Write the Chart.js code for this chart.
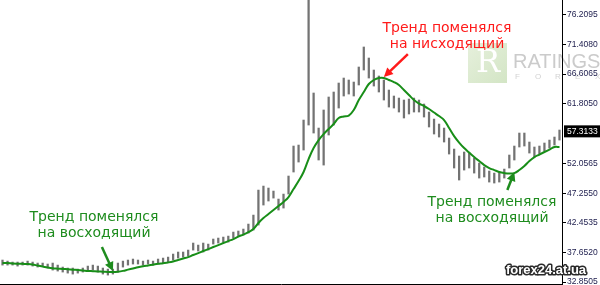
<!DOCTYPE html>
<html>
<head>
<meta charset="utf-8">
<script src="https://cdn.jsdelivr.net/npm/chart.js@4.4.1/dist/chart.umd.min.js"></script>
<style>
  html, body { margin: 0; padding: 0; background: #fff; }
  #wrap { width: 600px; height: 285px; }
</style>
</head>
<body>
<div id="wrap"><canvas id="chart" width="600" height="285"></canvas></div>
<script>
// bar highs / lows (one bar per ~5px)
const highs = [36.42,36.25,36.09,36.09,36.09,36.25,36.09,35.93,35.93,35.77,
  35.93,35.60,35.28,35.12,35.12,34.95,35.12,35.44,35.60,35.44,
  35.12,34.95,34.95,35.93,36.25,36.42,36.58,36.42,36.25,36.42,
  36.25,36.58,36.74,36.90,37.39,37.72,37.72,38.04,39.18,38.85,
  39.18,39.01,39.83,39.99,40.15,40.31,40.96,41.13,41.45,42.26,
  43.72,47.78,48.43,48.11,47.62,46.32,47.13,50.06,54.93,55.09,
  59.15,78.60,63.54,57.85,60.78,62.89,63.70,65.16,65.97,65.65,
  65.32,67.76,71.01,69.22,67.27,66.30,65.65,64.02,63.05,62.72,
  62.40,62.56,62.72,62.40,61.75,60.45,59.31,58.50,57.85,56.23,
  54.44,53.31,53.96,53.79,52.98,52.17,51.52,50.87,50.54,50.71,
  51.19,53.47,54.93,57.04,57.04,55.58,54.77,54.93,55.42,55.90,
  56.39,57.53];
const lows = [35.60,35.60,35.60,35.44,35.60,35.60,35.44,35.28,35.44,35.12,
  34.79,34.63,34.47,34.30,34.14,34.30,34.47,34.63,34.79,34.47,
  34.14,33.98,34.14,34.47,35.28,35.60,35.77,35.77,35.60,35.77,
  35.60,35.77,35.93,36.09,36.42,36.74,36.90,37.07,38.04,37.88,
  37.72,38.04,39.01,39.18,39.34,39.34,39.99,40.31,40.48,40.80,
  41.29,42.10,45.35,46.00,46.48,44.54,44.86,47.13,50.71,52.33,
  54.28,58.34,57.04,52.66,51.84,56.72,58.34,61.10,63.05,63.37,
  63.05,64.84,67.27,65.97,64.67,63.70,62.40,61.26,61.10,60.45,
  59.48,60.13,60.45,60.45,59.64,58.02,56.88,56.39,55.58,53.63,
  51.36,49.41,51.03,51.36,50.54,49.73,49.90,49.08,48.92,49.08,
  49.73,51.36,52.66,54.77,54.93,53.79,53.14,53.63,54.12,54.60,
  55.09,55.90];
// moving average (green line)
const maValues = [35.93,35.93,35.87,35.83,35.80,35.77,35.69,35.52,35.36,35.20,
  35.08,35.02,34.97,34.92,34.86,34.79,34.73,34.66,34.61,34.56,
  34.53,34.48,34.47,34.53,34.66,34.86,35.05,35.25,35.41,35.54,
  35.67,35.80,35.91,36.03,36.19,36.42,36.66,36.90,37.23,37.55,
  37.88,38.20,38.53,38.85,39.18,39.50,39.83,40.23,40.56,40.96,
  41.45,42.43,43.24,43.89,44.54,45.19,45.85,46.65,47.95,49.25,
  50.71,52.82,54.60,55.90,56.88,57.69,58.50,59.48,59.72,59.88,
  60.78,62.40,63.70,65.00,65.65,65.97,65.97,65.65,65.32,64.84,
  64.02,63.21,62.40,61.83,61.43,60.94,60.37,59.80,59.15,57.85,
  56.55,55.50,54.60,53.87,53.14,52.49,51.84,51.36,51.03,50.71,
  50.54,50.46,50.54,51.03,51.68,52.49,53.14,53.55,53.96,54.36,
  54.77,54.77];
const barLabels = highs.map((_, i) => i);

const yTicks = [32.8505, 37.6520, 42.4535, 47.2550, 52.0565, 61.8050, 66.6065, 71.4080, 76.2095];
const yMin = 32.53;
const yMax = 78.64;
const lastPrice = 57.3133;

// annotation anchors: bar index on the MA line, text lines
const notes = [
  { bar: 76, color: '#ff1a1a', lines: ['Тренд поменялся', 'на нисходящий'], tx: 447, ty: 28, dx: 24, dy: -23 },
  { bar: 22, color: '#1e8c1e', lines: ['Тренд поменялся', 'на восходящий'], tx: 94, ty: 217, dx: -11, dy: -24 },
  { bar: 102, color: '#1e8c1e', lines: ['Тренд поменялся', 'на восходящий'], tx: 492, ty: 202, dx: -7, dy: 18 },
];

function arrow(ctx, x1, y1, x2, y2, color) {
  const a = Math.atan2(y2 - y1, x2 - x1);
  const head = 9, half = 4.5;
  ctx.save();
  ctx.strokeStyle = color;
  ctx.fillStyle = color;
  ctx.lineWidth = 2.5;
  ctx.beginPath();
  ctx.moveTo(x1, y1);
  ctx.lineTo(x2 - Math.cos(a) * head * 0.8, y2 - Math.sin(a) * head * 0.8);
  ctx.stroke();
  ctx.beginPath();
  ctx.moveTo(x2, y2);
  ctx.lineTo(x2 - Math.cos(a) * head + Math.sin(a) * half, y2 - Math.sin(a) * head - Math.cos(a) * half);
  ctx.lineTo(x2 - Math.cos(a) * head - Math.sin(a) * half, y2 - Math.sin(a) * head + Math.cos(a) * half);
  ctx.closePath();
  ctx.fill();
  ctx.restore();
}

const watermark = {
  id: 'watermark',
  beforeDraw(chart) {
    const ctx = chart.ctx;
    ctx.save();
    const g = ctx.createLinearGradient(468, 43, 507, 83);
    g.addColorStop(0, '#e6f0dc');
    g.addColorStop(1, '#d3e5c5');
    ctx.fillStyle = g;
    ctx.fillRect(468, 43, 39, 40);
    ctx.fillStyle = '#ffffff';
    ctx.font = '32px "DejaVu Serif"';
    ctx.textAlign = 'center';
    ctx.textBaseline = 'middle';
    ctx.fillText('R', 488, 64);
    ctx.fillStyle = '#cbcbcb';
    ctx.textAlign = 'left';
    ctx.textBaseline = 'alphabetic';
    ctx.font = '20px "Liberation Sans"';
    ctx.fillText('RATINGS', 513, 68);
    ctx.font = '8px "Liberation Sans"';
    ctx.fillStyle = '#d2d2d2';
    ['F', 'O', 'R', 'E', 'X'].forEach((ch, i) => ctx.fillText(ch, 515 + i * 20, 79));
    ctx.restore();
  },
};

const extras = {
  id: 'extras',
  afterDraw(chart) {
    const ctx = chart.ctx;
    const xs = chart.scales.x, ys = chart.scales.y;
    const ca = chart.chartArea;

    notes.forEach(n => {
      const tipX = xs.getPixelForValue(n.bar);
      const tipY = ys.getPixelForValue(maValues[n.bar]) - 1;
      arrow(ctx, tipX + n.dx, tipY + n.dy, tipX, tipY, n.color);
      ctx.save();
      ctx.fillStyle = n.color;
      ctx.font = '14px "DejaVu Sans"';
      ctx.textAlign = 'center';
      ctx.textBaseline = 'middle';
      n.lines.forEach((t, i) => ctx.fillText(t, n.tx, n.ty + i * 16));
      ctx.restore();
    });

    // current price box
    const py = ys.getPixelForValue(lastPrice);
    ctx.save();
    ctx.fillStyle = '#000';
    ctx.fillRect(ca.right + 2, py - 6, 36, 12);
    ctx.fillStyle = '#fff';
    ctx.font = '8.5px "Liberation Sans"';
    ctx.textBaseline = 'middle';
    ctx.fillText(lastPrice.toFixed(4), ca.right + 5, py);

    // site label
    ctx.font = 'bold 13px "Liberation Sans"';
    ctx.textAlign = 'center';
    ctx.lineJoin = 'round';
    ctx.lineWidth = 3;
    ctx.strokeStyle = '#2a2a2a';
    ctx.strokeText('forex24.at.ua', 546, 270);
    ctx.fillStyle = '#fff';
    ctx.fillText('forex24.at.ua', 546, 270);
    ctx.restore();
  },
};

new Chart(document.getElementById('chart'), {
  data: {
    labels: barLabels,
    datasets: [
      {
        type: 'line',
        data: maValues,
        borderColor: '#188e18',
        borderWidth: 2,
        pointRadius: 0,
        tension: 0.4,
        order: 0,
      },
      {
        type: 'bar',
        data: lows.map((l, i) => [l, highs[i]]),
        backgroundColor: '#737373',
        barThickness: 1.6,
        order: 1,
      },
    ],
  },
  options: {
    responsive: false,
    animation: false,
    layout: { padding: 0 },
    plugins: { legend: { display: false }, tooltip: { enabled: false } },
    scales: {
      x: {
        offset: true,
        afterFit: s => { s.height = 1; s.paddingLeft = 0; s.paddingRight = 0; },
        ticks: { display: false },
        grid: { display: true, drawOnChartArea: false, drawTicks: false },
        border: { display: true, color: '#000', width: 1 },
      },
      y: {
        position: 'right',
        min: yMin,
        max: yMax,
        afterFit: s => { s.width = 38; s.paddingTop = 0; s.paddingBottom = 0; },
        afterBuildTicks: s => { s.ticks = yTicks.map(v => ({ value: v })); },
        ticks: {
          color: '#1c1c4c',
          font: { family: 'Liberation Sans', size: 8.5 },
          padding: 1,
          callback: v => Number(v).toFixed(4),
        },
        grid: { drawOnChartArea: false, drawTicks: true, tickLength: 4, color: '#000' },
        border: { display: true, color: '#000', width: 1 },
      },
    },
  },
  plugins: [watermark, extras],
});
</script>
</body>
</html>
